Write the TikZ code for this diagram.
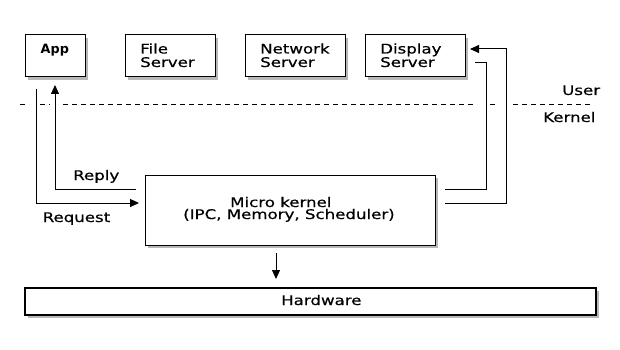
\documentclass[tikz,border=0pt]{standalone}
\usepackage{fontspec}
\setmainfont{DejaVu Sans}
\newfontfamily\widefont{DejaVu Sans}[FakeStretch=1.25,FakeBold=0.6]
\usetikzlibrary{arrows.meta,shadows}
\begin{document}
\begin{tikzpicture}[x=1pt,y=-1pt,
  box/.style={draw, line width=1pt, fill=white, inner sep=0pt,
    drop shadow={shadow xshift=3pt, shadow yshift=-3pt, fill=black, opacity=0.28}},
  lbl/.style={anchor=base west, inner sep=0pt, font=\widefont\fontsize{13.3}{14}\selectfont},
  conn/.style={line width=1pt},
  arr/.style={line width=1pt, -{Triangle[length=9pt,width=8pt]}},
  sep/.style={line width=1pt, dash pattern=on 5pt off 4pt}]
\useasboundingbox (0,0) rectangle (620,350);
% boxes
\node[box, minimum width=60pt, minimum height=42pt] (app) at (55,56) {};
\node[box, minimum width=90pt, minimum height=42pt] (file) at (170,56) {};
\node[box, minimum width=100pt, minimum height=42pt] (net) at (295,56) {};
\node[box, minimum width=100pt, minimum height=42pt] (disp) at (415,56) {};
\node[box, minimum width=290pt, minimum height=70pt] (mk) at (290,210) {};
\node[box, line width=1.1pt, minimum width=571pt, minimum height=27pt] (hw) at (310.5,301.5) {};
% labels
\node[lbl, font=\fontsize{12.8}{13}\bfseries] (tapp) at (40.5,54) {App};
\node[lbl] (tfile1) at (140,53.5) {File};
\node[lbl] (tfile2) at (140,67) {Server};
\node[lbl] (tnet1) at (260,53.5) {Network};
\node[lbl] (tnet2) at (260,67) {Server};
\node[lbl] (tdisp1) at (380,53.5) {Display};
\node[lbl] (tdisp2) at (380,67) {Server};
\node[lbl] (tmk1) at (230,207) {Micro kernel};
\node[lbl] (tmk2) at (183,219) {(IPC, Memory, Scheduler)};
\node[lbl] (thw) at (281,305) {Hardware};
\node[lbl] (tuser) at (562,95) {User};
\node[lbl] (tkern) at (543,122) {Kernel};
\node[lbl] (treply) at (73,180) {Reply};
\node[lbl] (treq) at (42.5,222) {Request};
% separator
\draw[sep] (20,105) -- (28,105);
\draw[sep] (40,105) -- (50,105);
\draw[sep] (63,105) -- (473,105);
\draw[sep] (490,105) -- (498,105);
\draw[sep] (513,105) -- (593,105);
% connector ends
\coordinate (rpS) at (136,189);
\coordinate (rpT) at (55,85);
\coordinate (rqS) at (36,89);
\coordinate (rqT) at (139,203);
\coordinate (d1S) at (445,189);
\coordinate (d1M) at (486,63);
\coordinate (d1T) at (475,63);
\coordinate (d2S) at (445,203);
\coordinate (d2M) at (506,49);
\coordinate (d2T) at (470,49);
\coordinate (hwS) at (276,253);
\coordinate (hwT) at (276,279);
% connectors
\draw[arr] (rpS) -| (rpT);
\draw[arr] (rqS) |- (rqT);
\draw[conn] (d1S) -| (d1M) -- (d1T);
\draw[arr] (d2S) -| (d2M) -- (d2T);
\draw[arr] (hwS) -- (hwT);
\end{tikzpicture}
\end{document}
